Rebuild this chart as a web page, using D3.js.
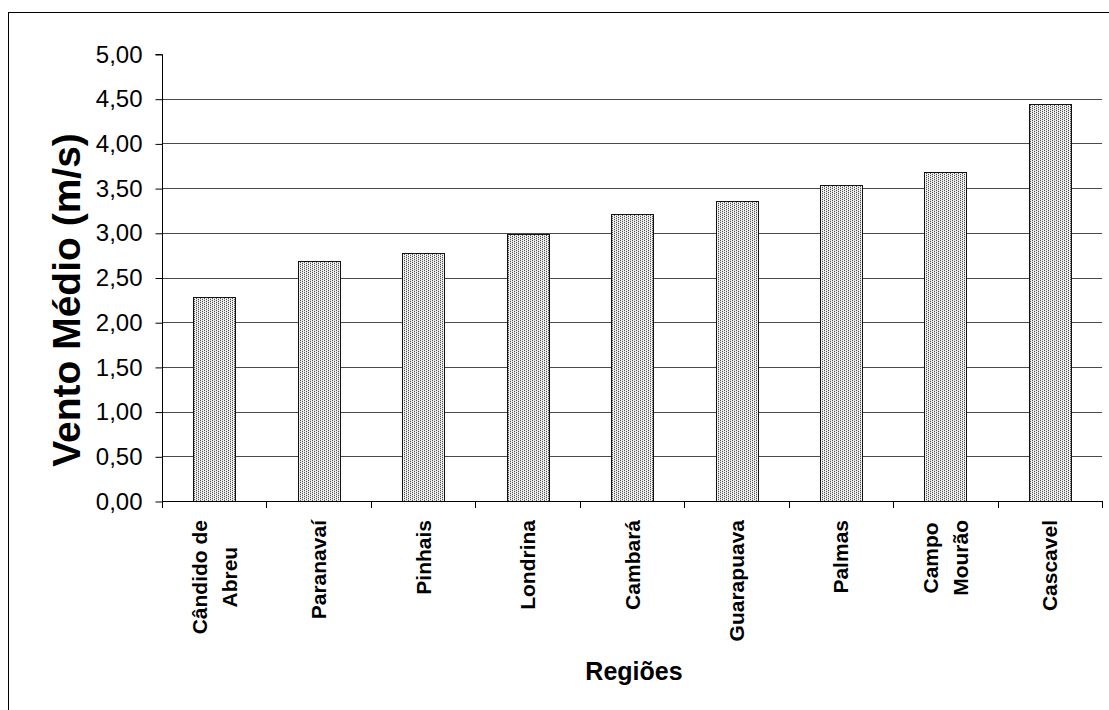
<!DOCTYPE html>
<html>
<head>
<meta charset="utf-8">
<script src="https://cdn.jsdelivr.net/npm/d3@7"></script>
<style>
  html, body { margin: 0; padding: 0; background: #fff; }
  svg { display: block; font-family: "Liberation Sans", Arial, sans-serif; }
</style>
</head>
<body>
<svg id="chart" width="1109" height="710"></svg>
<script>
// Average wind speed by region (m/s)
const regions = [
  ["Cândido de", "Abreu"],
  ["Paranavaí"],
  ["Pinhais"],
  ["Londrina"],
  ["Cambará"],
  ["Guarapuava"],
  ["Palmas"],
  ["Campo", "Mourão"],
  ["Cascavel"]
];
const windSpeed = [2.28, 2.68, 2.77, 2.99, 3.21, 3.36, 3.54, 3.68, 4.44];
const yTicks = [0, 0.5, 1, 1.5, 2, 2.5, 3, 3.5, 4, 4.5, 5];
const yTitle = "Vento Médio (m/s)";
const xTitle = "Regiões";

const svg = d3.select("#chart");

// outer chart frame
svg.append("rect")
  .attr("x", 8.5).attr("y", 12.5)
  .attr("width", 1120).attr("height", 720)
  .attr("fill", "none").attr("stroke", "#000").attr("stroke-width", 1);

// dotted bar fill
const defs = svg.append("defs");
const pat = defs.append("pattern")
  .attr("id", "dots")
  .attr("patternUnits", "userSpaceOnUse")
  .attr("width", 4).attr("height", 2);
pat.append("rect").attr("width", 4).attr("height", 2).attr("fill", "#d6d6d6");
pat.append("rect").attr("x", 1).attr("y", 0).attr("width", 1).attr("height", 2).attr("fill", "#f2f2f2");
pat.append("rect").attr("x", 3).attr("y", 0).attr("width", 1).attr("height", 2).attr("fill", "#f2f2f2");
pat.append("rect").attr("x", 0).attr("y", 0).attr("width", 1).attr("height", 1).attr("fill", "#505050");
pat.append("rect").attr("x", 2).attr("y", 1).attr("width", 1).attr("height", 1).attr("fill", "#505050");

const plot = { left: 162, right: 1102, top: 54, bottom: 501 };

const x = d3.scaleBand()
  .domain(d3.range(regions.length))
  .range([plot.left, plot.right])
  .paddingInner(0.6).paddingOuter(0.3);

const xOuter = d3.scaleBand()
  .domain(d3.range(regions.length))
  .range([plot.left, plot.right]);

const y = d3.scaleLinear().domain([0, 5]).range([plot.bottom, plot.top]);

// horizontal gridlines
svg.append("g").selectAll("line")
  .data(yTicks.filter(t => t > 0 && t < 5))
  .join("line")
  .attr("x1", plot.left).attr("x2", plot.right)
  .attr("y1", d => Math.round(y(d)) + 0.5).attr("y2", d => Math.round(y(d)) + 0.5)
  .attr("stroke", "#4a4a4a").attr("stroke-width", 1);

// bars
svg.append("g").selectAll("rect")
  .data(windSpeed)
  .join("rect")
  .attr("x", (d, i) => Math.round(x(i)) + 0.5)
  .attr("y", d => Math.round(y(d)) + 0.5)
  .attr("width", Math.round(x.bandwidth()))
  .attr("height", d => Math.round(y(0)) - Math.round(y(d)))
  .attr("fill", "url(#dots)")
  .attr("stroke", "#111").attr("stroke-width", 1);

// y axis
const yAxis = svg.append("g").attr("transform", `translate(${plot.left + 0.5},0.5)`)
  .call(d3.axisLeft(y).tickValues(yTicks).tickSize(7).tickPadding(13)
    .tickFormat(d => d3.format(".2f")(d).replace(".", ",")));
yAxis.select(".domain").attr("d", `M-7,${Math.round(y(5))}H0V${Math.round(y(0))}`).attr("stroke", "#000");
yAxis.selectAll(".tick line").attr("stroke", "#000");
yAxis.selectAll(".tick text")
  .attr("font-size", 24).attr("fill", "#000")
  .attr("font-family", "'Liberation Sans', Arial, sans-serif");

// x axis line with category boundary ticks
const xg = svg.append("g");
xg.append("line")
  .attr("x1", plot.left).attr("x2", plot.right + 1)
  .attr("y1", plot.bottom + 0.5).attr("y2", plot.bottom + 0.5)
  .attr("stroke", "#000");
xg.selectAll("line.tk")
  .data(d3.range(regions.length + 1))
  .join("line").attr("class", "tk")
  .attr("x1", i => Math.round(i < regions.length ? xOuter(i) : plot.right) + 0.5)
  .attr("x2", i => Math.round(i < regions.length ? xOuter(i) : plot.right) + 0.5)
  .attr("y1", plot.bottom).attr("y2", plot.bottom + 7)
  .attr("stroke", "#000");

// rotated category labels
const lineGap = 30;
const catG = svg.append("g");
regions.forEach((lines, i) => {
  const cx = xOuter(i) + xOuter.bandwidth() / 2;
  const n = lines.length;
  const t = catG.append("text")
    .attr("transform", `translate(${cx},520) rotate(-90)`)
    .attr("text-anchor", "end")
    .attr("font-size", 21).attr("font-weight", "bold").attr("fill", "#000");
  lines.forEach((ln, k) => {
    // baseline offset so the block is centred on the band
    const off = (k - (n - 1) / 2) * lineGap + 7.5;
    t.append("tspan").attr("x", 0).attr("y", off).text(ln);
  });
});
// centre multi-line labels line by line
catG.selectAll("text").each(function () {
  const tspans = d3.select(this).selectAll("tspan").nodes();
  if (tspans.length > 1) {
    const widths = tspans.map(n => n.getComputedTextLength());
    const maxW = d3.max(widths);
    tspans.forEach((n, k) => d3.select(n).attr("x", -(maxW - widths[k]) / 2));
  }
});

// axis titles
svg.append("text")
  .attr("transform", `translate(80,300) rotate(-90)`)
  .attr("text-anchor", "middle")
  .attr("font-size", 39).attr("font-weight", "bold").attr("fill", "#000")
  .text(yTitle);

svg.append("text")
  .attr("x", (plot.left + plot.right) / 2 + 2).attr("y", 680)
  .attr("text-anchor", "middle")
  .attr("font-size", 25).attr("font-weight", "bold").attr("fill", "#000")
  .text(xTitle);
</script>
</body>
</html>
